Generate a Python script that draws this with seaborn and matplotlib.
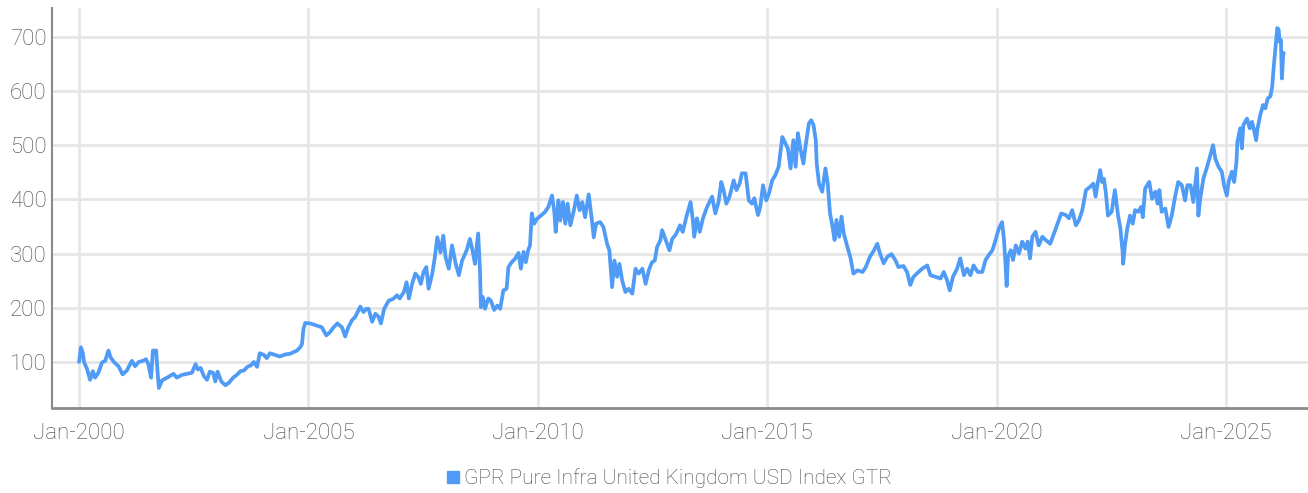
import pandas as pd
import matplotlib.pyplot as plt
import seaborn as sns
from matplotlib.lines import Line2D

# Series (decimal year, index level)
years = [
    2000.00, 2000.04, 2000.08, 2000.11, 2000.17, 2000.24, 2000.30, 2000.35, 2000.42, 2000.50,
    2000.57, 2000.64, 2000.69, 2000.77, 2000.86, 2000.95, 2001.04, 2001.15, 2001.22, 2001.30,
    2001.39, 2001.46, 2001.51, 2001.57, 2001.61, 2001.68, 2001.71, 2001.74, 2001.81, 2001.92,
    2002.06, 2002.13, 2002.24, 2002.35, 2002.46, 2002.54, 2002.59, 2002.65, 2002.72, 2002.79,
    2002.85, 2002.92, 2002.97, 2003.02, 2003.10, 2003.19, 2003.26, 2003.36, 2003.45, 2003.52,
    2003.59, 2003.67, 2003.75, 2003.81, 2003.88, 2003.94, 2004.03, 2004.09, 2004.16, 2004.38,
    2004.50, 2004.60, 2004.75, 2004.82, 2004.86, 2004.89, 2004.93, 2005.04, 2005.18, 2005.29,
    2005.39, 2005.47, 2005.55, 2005.63, 2005.73, 2005.80, 2005.87, 2005.95, 2006.02, 2006.13,
    2006.20, 2006.26, 2006.31, 2006.39, 2006.46, 2006.53, 2006.58, 2006.65, 2006.75, 2006.86,
    2006.93, 2006.99, 2007.08, 2007.14, 2007.19, 2007.26, 2007.33, 2007.40, 2007.45, 2007.51,
    2007.57, 2007.62, 2007.70, 2007.75, 2007.81, 2007.88, 2007.94, 2007.99, 2008.06, 2008.13,
    2008.21, 2008.28, 2008.35, 2008.45, 2008.52, 2008.59, 2008.63, 2008.70, 2008.74, 2008.76,
    2008.80, 2008.85, 2008.92, 2008.97, 2009.05, 2009.12, 2009.18, 2009.25, 2009.32, 2009.36,
    2009.43, 2009.50, 2009.58, 2009.63, 2009.69, 2009.74, 2009.79, 2009.83, 2009.87, 2009.92,
    2009.98, 2010.07, 2010.16, 2010.23, 2010.31, 2010.36, 2010.39, 2010.45, 2010.49, 2010.55,
    2010.60, 2010.65, 2010.71, 2010.78, 2010.85, 2010.91, 2010.97, 2011.03, 2011.11, 2011.18,
    2011.22, 2011.27, 2011.36, 2011.43, 2011.51, 2011.56, 2011.62, 2011.67, 2011.73, 2011.78,
    2011.84, 2011.91, 2011.98, 2012.06, 2012.13, 2012.20, 2012.28, 2012.35, 2012.42, 2012.49,
    2012.55, 2012.60, 2012.67, 2012.71, 2012.78, 2012.87, 2012.93, 2013.00, 2013.07, 2013.10,
    2013.16, 2013.24, 2013.33, 2013.38, 2013.41, 2013.47, 2013.53, 2013.60, 2013.69, 2013.80,
    2013.87, 2013.94, 2014.00, 2014.05, 2014.11, 2014.18, 2014.27, 2014.33, 2014.40, 2014.45,
    2014.53, 2014.60, 2014.67, 2014.72, 2014.80, 2014.85, 2014.91, 2014.98, 2015.04, 2015.11,
    2015.18, 2015.25, 2015.33, 2015.40, 2015.45, 2015.51, 2015.57, 2015.62, 2015.67, 2015.73,
    2015.79, 2015.84, 2015.91, 2015.96, 2016.01, 2016.06, 2016.08, 2016.13, 2016.20, 2016.27,
    2016.32, 2016.37, 2016.42, 2016.47, 2016.51, 2016.57, 2016.62, 2016.67, 2016.75, 2016.82,
    2016.88, 2016.97, 2017.08, 2017.15, 2017.24, 2017.33, 2017.40, 2017.46, 2017.54, 2017.62,
    2017.71, 2017.80, 2017.86, 2017.97, 2018.05, 2018.12, 2018.19, 2018.30, 2018.38, 2018.49,
    2018.56, 2018.67, 2018.78, 2018.85, 2018.92, 2018.98, 2019.05, 2019.14, 2019.21, 2019.29,
    2019.36, 2019.43, 2019.50, 2019.59, 2019.69, 2019.76, 2019.83, 2019.91, 2019.98, 2020.05,
    2020.12, 2020.16, 2020.20, 2020.22, 2020.25, 2020.31, 2020.36, 2020.42, 2020.49, 2020.56,
    2020.63, 2020.68, 2020.73, 2020.78, 2020.85, 2020.92, 2021.00, 2021.07, 2021.17, 2021.24,
    2021.33, 2021.41, 2021.51, 2021.58, 2021.65, 2021.73, 2021.80, 2021.87, 2021.95, 2022.04,
    2022.11, 2022.16, 2022.21, 2022.26, 2022.30, 2022.34, 2022.38, 2022.43, 2022.51, 2022.58,
    2022.65, 2022.70, 2022.75, 2022.76, 2022.80, 2022.85, 2022.91, 2022.97, 2023.02, 2023.09,
    2023.15, 2023.19, 2023.24, 2023.33, 2023.39, 2023.46, 2023.51, 2023.55, 2023.60, 2023.68,
    2023.75, 2023.82, 2023.89, 2023.96, 2024.04, 2024.11, 2024.16, 2024.23, 2024.29, 2024.37,
    2024.40, 2024.44, 2024.51, 2024.58, 2024.66, 2024.72, 2024.77, 2024.84, 2024.91, 2024.96,
    2025.02, 2025.06, 2025.13, 2025.18, 2025.23, 2025.25, 2025.31, 2025.35, 2025.38, 2025.46,
    2025.52, 2025.57, 2025.62, 2025.66, 2025.69, 2025.75, 2025.81, 2025.86, 2025.91, 2025.97,
    2026.01, 2026.04, 2026.08, 2026.12, 2026.15, 2026.17, 2026.20, 2026.22, 2026.25, 2026.26,
]
values = [
    100, 127, 117, 99, 88, 67, 83, 71, 80, 99,
    102, 121, 108, 99, 92, 77, 84, 102, 92, 100,
    102, 105, 96, 71, 121, 121, 83, 52, 66, 71,
    78, 71, 76, 78, 80, 96, 86, 89, 74, 67,
    82, 80, 64, 82, 64, 57, 61, 71, 77, 83,
    84, 91, 94, 100, 91, 116, 113, 107, 116, 110,
    114, 115, 121, 127, 133, 160, 172, 171, 167, 164,
    149, 155, 164, 171, 164, 147, 164, 177, 183, 202,
    192, 198, 198, 174, 189, 183, 171, 198, 213, 217,
    223, 217, 229, 247, 217, 244, 263, 256, 244, 266,
    275, 235, 263, 290, 330, 302, 333, 293, 272, 315,
    281, 260, 287, 306, 327, 300, 281, 337, 269, 201,
    220, 198, 217, 214, 196, 204, 198, 232, 235, 275,
    284, 290, 301, 272, 303, 284, 306, 315, 374, 355,
    364, 370, 377, 386, 407, 377, 340, 398, 361, 395,
    355, 392, 352, 377, 407, 380, 395, 367, 409, 361,
    330, 355, 358, 349, 318, 306, 238, 287, 257, 281,
    250, 229, 235, 226, 272, 263, 272, 244, 269, 284,
    287, 312, 324, 343, 327, 306, 327, 334, 346, 352,
    340, 368, 395, 362, 331, 365, 340, 365, 386, 405,
    374, 395, 432, 417, 392, 405, 435, 417, 429, 448,
    448, 398, 392, 402, 371, 386, 426, 398, 411, 435,
    445, 460, 515, 503, 494, 457, 509, 460, 522, 491,
    466, 500, 540, 546, 537, 509, 466, 429, 414, 457,
    429, 374, 352, 325, 362, 331, 368, 337, 312, 291,
    263, 269, 266, 275, 294, 306, 318, 300, 282, 294,
    299, 287, 275, 277, 266, 242, 257, 266, 272, 278,
    260, 257, 254, 266, 251, 232, 257, 272, 291, 260,
    272, 260, 278, 266, 266, 288, 297, 306, 325, 346,
    358, 328, 275, 240, 294, 306, 288, 315, 300, 322,
    309, 322, 291, 331, 340, 315, 331, 325, 318, 334,
    355, 374, 371, 365, 380, 352, 362, 380, 417, 423,
    429, 405, 432, 454, 432, 438, 414, 370, 377, 417,
    370, 346, 302, 281, 315, 346, 370, 355, 380, 377,
    386, 367, 420, 432, 401, 414, 392, 417, 377, 383,
    349, 370, 404, 432, 426, 398, 426, 426, 395, 457,
    370, 401, 438, 457, 481, 500, 475, 460, 451, 426,
    407, 432, 451, 432, 469, 506, 531, 494, 537, 549,
    531, 543, 525, 509, 531, 556, 574, 568, 586, 590,
    608, 642, 679, 716, 713, 691, 694, 623, 667, 670,
]

tick_years = [2000, 2005, 2010, 2015, 2020, 2025]
tick_labels = ["Jan-2000", "Jan-2005", "Jan-2010", "Jan-2015", "Jan-2020", "Jan-2025"]
y_ticks = [100, 200, 300, 400, 500, 600, 700]
series_name = "GPR Pure Infra United Kingdom USD Index GTR"

blue = "#4F9BF6"
grey_text = "#444444"

sns.set_theme(style="white")
plt.rcParams['font.family'] = ['Roboto', 'DejaVu Sans']
plt.rcParams['font.weight'] = 'light'

df = pd.DataFrame({'year': years, 'value': values})

fig = plt.figure(figsize=(13.08, 4.93), dpi=100)
ax = fig.add_axes([52 / 1308, 1 - 408 / 493, 1 - 52 / 1308, 400 / 493])

sns.lineplot(data=df, x='year', y='value', ax=ax, color=blue, linewidth=2.7, legend=False)

ax.set_xlim(1999.41, 2026.79)
ax.set_ylim(15, 753)
ax.set_xticks(tick_years, tick_labels)
ax.set_yticks(y_ticks)
ax.set_xlabel('')
ax.set_ylabel('')

ax.grid(True, color='#e6e6e6', linewidth=2)
ax.set_axisbelow(True)
for side in ['top', 'right']:
    ax.spines[side].set_visible(False)
ax.spines['left'].set_color('#8a8a8a')
ax.spines['left'].set_linewidth(1.5)
ax.spines['bottom'].set_color('#8a8a8a')
ax.spines['bottom'].set_linewidth(2)

ax.tick_params(axis='both', length=0, labelsize=16, colors=grey_text)
ax.tick_params(axis='x', pad=11)
ax.tick_params(axis='y', pad=4)

handle = Line2D([], [], marker='s', color=blue, linestyle='', markersize=8)
fig.legend([handle], [series_name], loc='center', bbox_to_anchor=(0.511, 1 - 478 / 493),
           frameon=False, fontsize=15, labelcolor=grey_text,
           handletextpad=0.1, handlelength=0.8)

fig.savefig('out.png', dpi=100)
